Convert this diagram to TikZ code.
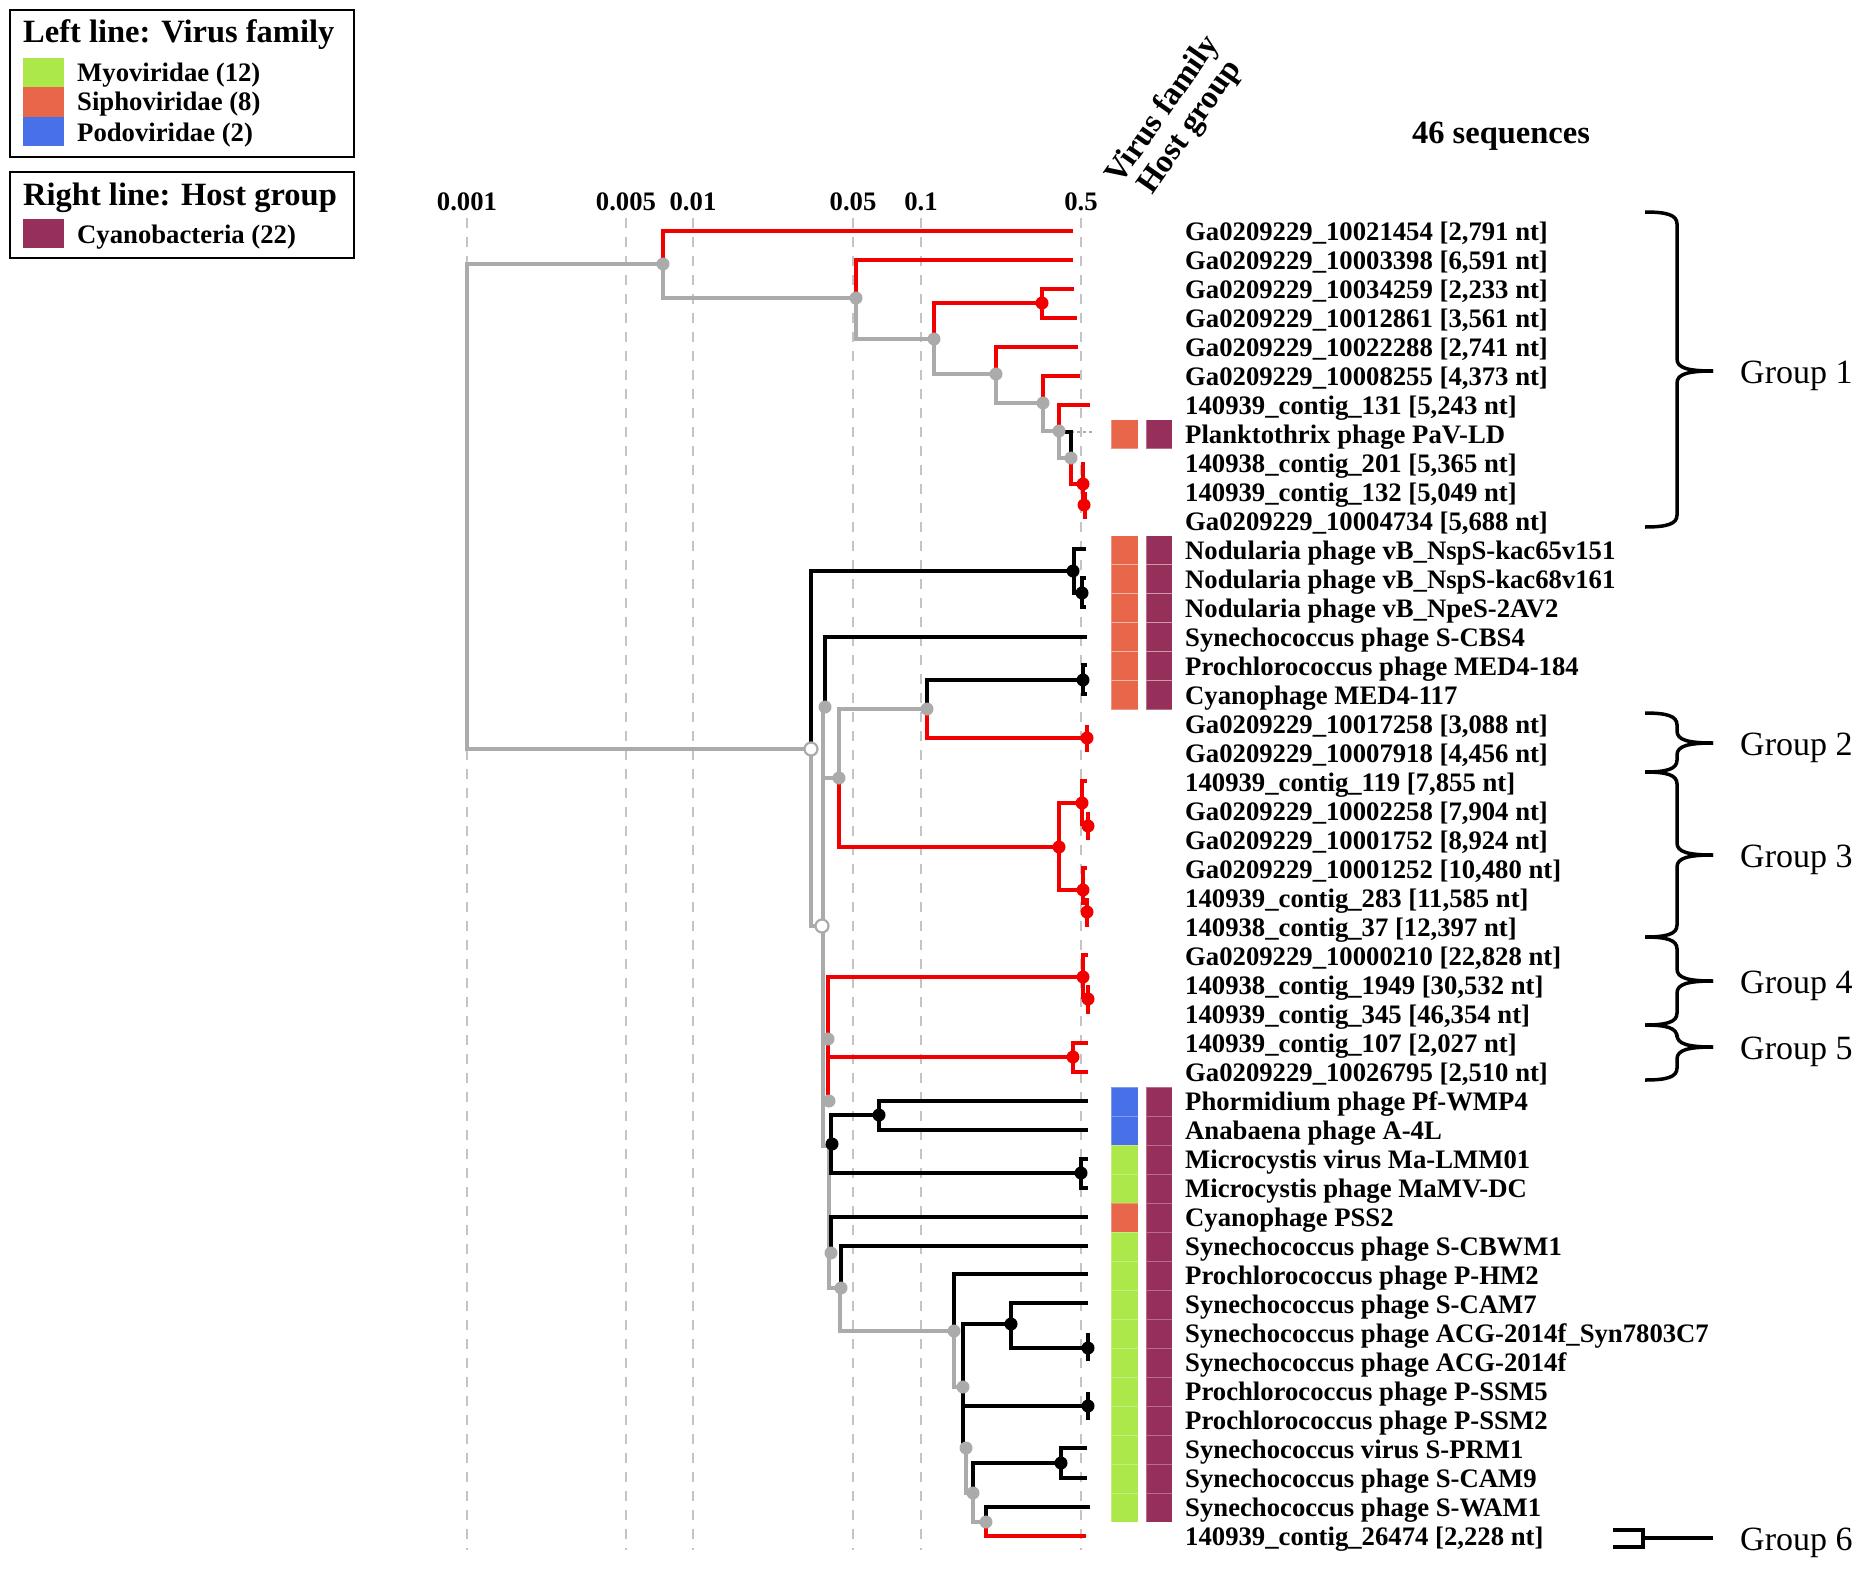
\documentclass[tikz,border=0pt]{standalone}
\usepackage{fontspec}
\setmainfont{Liberation Serif}
\definecolor{treegrey}{HTML}{ABABAB}
\definecolor{treered}{HTML}{F20000}
\definecolor{gridgrey}{HTML}{C4C4C4}
\definecolor{myo}{HTML}{ADE84A}
\definecolor{sipho}{HTML}{E8664A}
\definecolor{podo}{HTML}{4870E8}
\definecolor{cyano}{HTML}{96305A}
\newcommand\lblfont{\bfseries\fontsize{26.7}{29}\selectfont}
\newcommand\hdrfont{\bfseries\fontsize{32.5}{34}\selectfont}
\newcommand\grpfont{\fontsize{34}{36}\selectfont}
\tikzset{
  gl/.style={draw=treegrey, line width=3.2},
  rl/.style={draw=treered, line width=3.2},
  bl/.style={draw=black, line width=3.2},
  gdot/.style={circle, fill=treegrey, inner sep=0, minimum size=13},
  rdot/.style={circle, fill=treered, inner sep=0, minimum size=13},
  bdot/.style={circle, fill=black, inner sep=0, minimum size=13},
  odot/.style={circle, fill=white, draw=treegrey, line width=2.2, inner sep=0, minimum size=13},
  gridln/.style={draw=gridgrey, line width=1.6, dash pattern=on 10pt off 9pt},
  lab/.style={anchor=base west, inner sep=0, font=\lblfont, text height=18, text depth=5},
  tick/.style={anchor=base, inner sep=0, font=\lblfont},
  ttl/.style={anchor=base west, inner sep=0, font=\hdrfont},
  rot/.style={anchor=base west, inner sep=0, font=\hdrfont, rotate=55, text height=20, text depth=2},
  grp/.style={anchor=base west, inner sep=0, font=\grpfont},
  brc/.style={draw=black, line width=3.5},
  cellbox/.style={draw=white, draw opacity=0.3, line width=0.8}
}
\newcommand\grpbrace[3]{%
  \draw[brc] (1645,#1) .. controls (1667,#1) and (1677,{#1+3}) .. (1677,{#1+12}) -- (1677,{#2-12}) .. controls (1677,{#2-3}) and (1688,#2) .. (1713,#2);
  \draw[brc] (1713,#2) .. controls (1688,#2) and (1677,{#2+3}) .. (1677,{#2+12}) -- (1677,{#3-12}) .. controls (1677,{#3-3}) and (1667,#3) .. (1645,#3);
}
\begin{document}
\begin{tikzpicture}[x=1pt,y=-1pt]
\useasboundingbox (0,0) rectangle (1867,1568);

% ---------- legend ----------
\draw[line width=2] (10,10) rectangle (354,157);
\node[ttl] (lt1) at (23,43) {Left line: Virus family};
\fill[myo] (23,58) rectangle (64,87);
\fill[sipho] (23,87) rectangle (64,117);
\fill[podo] (23,117) rectangle (64,146);
\node[lab] (le1) at (77,82) {Myoviridae (12)};
\node[lab] (le2) at (77,111) {Siphoviridae (8)};
\node[lab] (le3) at (77,141) {Podoviridae (2)};
\draw[line width=2] (10,172) rectangle (354,258);
\node[ttl] (lt2) at (23,205) {Right line: Host group};
\fill[cyano] (23,219) rectangle (64,248);
\node[lab] (le4) at (77,243) {Cyanobacteria (22)};

% ---------- headers ----------
\node[rot] (hv) at (1120,186) {Virus family};
\node[rot] (hh) at (1152,196) {Host group};
\node[anchor=base, inner sep=0, font=\hdrfont] (hs) at (1501,143) {46 sequences};

% ---------- grid ----------
\foreach \gx/\gl [count=\k] in {467/0.001, 626/0.005, 693/0.01, 853/0.05, 921/0.1, 1081/0.5} {
  \draw[gridln] (\gx,218) -- (\gx,1550);
  \node[tick] (tk\k) at (\gx,210) {\gl};
}

% ---------- colour columns ----------
\foreach \r/\c in {7/sipho,11/sipho,12/sipho,13/sipho,14/sipho,15/sipho,16/sipho,
  30/podo,31/podo,32/myo,33/myo,34/sipho,35/myo,36/myo,37/myo,38/myo,39/myo,40/myo,41/myo,42/myo,43/myo,44/myo} {
  \path[cellbox, fill=\c] (1111,{216.5+29.02*\r}) rectangle (1138,{245.5+29.02*\r});
  \path[cellbox, fill=cyano] (1146,{216.5+29.02*\r}) rectangle (1172,{245.5+29.02*\r});
}

% ---------- tree: grey lines ----------
\draw[gl] (663,264) -- (467,264) -- (467,749) -- (811,749);
\draw[gl] (663,264) -- (663,298) -- (856,298);
\draw[gl] (856,298) -- (856,339) -- (934,339);
\draw[gl] (934,339) -- (934,374) -- (996,374);
\draw[gl] (996,374) -- (996,403) -- (1043,403);
\draw[gl] (1043,403) -- (1043,431) -- (1059,431);
\draw[gl] (1059,431) -- (1059,458) -- (1071,458);
\draw[draw=treegrey, line width=1.6, dash pattern=on 3pt off 3pt] (1071,432) -- (1093,432);
\draw[gl] (811,749) -- (811,926) -- (822,926);
\draw[gl] (823,707) -- (823,1146) -- (832,1146);
\draw[gl] (823,778) -- (839,778);
\draw[gl] (839,778) -- (839,709) -- (927,709);
\draw[gl] (829,1146) -- (829,1288) -- (841,1288);
\draw[gl] (840,1288) -- (840,1331) -- (954,1331);
\draw[gl] (954,1331) -- (954,1387) -- (963,1387);
\draw[gl] (963,1387) -- (963,1448) -- (966,1448);
\draw[gl] (966,1448) -- (966,1493) -- (973,1493);
\draw[gl] (973,1493) -- (973,1522) -- (986,1522);

% ---------- tree: red lines ----------
\draw[rl] (663,264) -- (663,231) -- (1073,231);
\draw[rl] (856,298) -- (856,260) -- (1073,260);
\draw[rl] (934,339) -- (934,303) -- (1042,303);
\draw[rl] (1074,289) -- (1042,289) -- (1042,318) -- (1077,318);
\draw[rl] (996,374) -- (996,347) -- (1078,347);
\draw[rl] (1043,403) -- (1043,376) -- (1080,376);
\draw[rl] (1059,431) -- (1059,405) -- (1090,405);
\draw[rl] (1071,458) -- (1071,484) -- (1083,484);
\draw[rl] (1083,462) -- (1083,505);
\draw[rl] (1085,492) -- (1085,519);
\draw[rl] (927,709) -- (927,738) -- (1087,738);
\draw[rl] (1087,725) -- (1087,752);
\draw[rl] (839,778) -- (839,847) -- (1059,847);
\draw[rl] (1082,803) -- (1059,803) -- (1059,890) -- (1083,890);
\draw[rl] (1087,781) -- (1082,781) -- (1082,826);
\draw[rl] (1088,812) -- (1088,840);
\draw[rl] (1087,868) -- (1083,868) -- (1083,905);
\draw[rl] (1087,898) -- (1087,927);
\draw[rl] (828,1100) -- (828,977) -- (1083,977);
\draw[rl] (828,1057) -- (1073,1057);
\draw[rl] (1088,955) -- (1083,955) -- (1083,999);
\draw[rl] (1088,985) -- (1088,1014);
\draw[rl] (1088,1043) -- (1073,1043) -- (1073,1072) -- (1088,1072);
\draw[rl] (986,1522) -- (986,1536) -- (1086,1536);

% ---------- tree: black lines ----------
\draw[bl] (1059,432) -- (1071,432) -- (1071,452);
\draw[bl] (811,749) -- (811,571) -- (1073,571);
\draw[bl] (1086,549) -- (1074,549) -- (1074,593) -- (1082,593);
\draw[bl] (1086,578) -- (1082,578) -- (1082,607) -- (1086,607);
\draw[bl] (825,707) -- (825,637) -- (1087,637);
\draw[bl] (927,709) -- (927,680) -- (1083,680);
\draw[bl] (1087,665) -- (1083,665) -- (1083,694) -- (1087,694);
\draw[bl] (879,1115) -- (831,1115) -- (831,1173) -- (1081,1173);
\draw[bl] (1088,1101) -- (879,1101) -- (879,1130) -- (1088,1130);
\draw[bl] (1088,1159) -- (1081,1159) -- (1081,1188) -- (1088,1188);
\draw[bl] (831,1253) -- (831,1217) -- (1088,1217);
\draw[bl] (841,1288) -- (841,1246) -- (1088,1246);
\draw[bl] (954,1331) -- (954,1274) -- (1088,1274);
\draw[bl] (1011,1324) -- (963,1324) -- (963,1448);
\draw[bl] (1088,1303) -- (1011,1303) -- (1011,1348) -- (1088,1348);
\draw[bl] (1088,1333) -- (1088,1361);
\draw[bl] (963,1406) -- (1088,1406);
\draw[bl] (1088,1392) -- (1088,1420);
\draw[bl] (1061,1463) -- (973,1463) -- (973,1493);
\draw[bl] (1087,1448) -- (1061,1448) -- (1061,1478) -- (1087,1478);
\draw[bl] (986,1522) -- (986,1507) -- (1090,1507);

% ---------- tree: node dots ----------
\foreach \n/\px/\py in {A/663/264,B/856/298,C/934/339,E/996/374,F/1043/403,G/1059/431,H/1071/458,
  L/825/707,N/839/778,M/927/709,S/828/1039,V/829/1101,Z/831/1253,AA/841/1288,AB/954/1331,
  AD/963/1387,AE/966/1448,AG/973/1493,AH/986/1522}
  \node[gdot] (n\n) at (\px,\py) {};
\foreach \n/\px/\py in {D/1042/303,I/1083/484,I2/1084/505,RM/1087/738,P/1059/847,R1/1082/803,
  R1b/1088/826,R2/1083/890,R2b/1087/912,T/1083/977,T2/1088/999,U/1073/1057}
  \node[rdot] (n\n) at (\px,\py) {};
\foreach \n/\px/\py in {J/1073/571,K/1082/593,Q/1083/680,X/879/1115,W/832/1144,Y/1081/1173,
  AC/1011/1324,AC2/1088/1348,AD2/1088/1406,AF/1061/1463}
  \node[bdot] (n\n) at (\px,\py) {};
\node[odot] (nO1) at (811,749) {};
\node[odot] (nO2) at (822,926) {};

% ---------- labels ----------
\foreach \i/\t in {
 0/{Ga0209229\_10021454 [2,791 nt]},
 1/{Ga0209229\_10003398 [6,591 nt]},
 2/{Ga0209229\_10034259 [2,233 nt]},
 3/{Ga0209229\_10012861 [3,561 nt]},
 4/{Ga0209229\_10022288 [2,741 nt]},
 5/{Ga0209229\_10008255 [4,373 nt]},
 6/{140939\_contig\_131 [5,243 nt]},
 7/{Planktothrix phage PaV-LD},
 8/{140938\_contig\_201 [5,365 nt]},
 9/{140939\_contig\_132 [5,049 nt]},
 10/{Ga0209229\_10004734 [5,688 nt]},
 11/{Nodularia phage vB\_NspS-kac65v151},
 12/{Nodularia phage vB\_NspS-kac68v161},
 13/{Nodularia phage vB\_NpeS-2AV2},
 14/{Synechococcus phage S-CBS4},
 15/{Prochlorococcus phage MED4-184},
 16/{Cyanophage MED4-117},
 17/{Ga0209229\_10017258 [3,088 nt]},
 18/{Ga0209229\_10007918 [4,456 nt]},
 19/{140939\_contig\_119 [7,855 nt]},
 20/{Ga0209229\_10002258 [7,904 nt]},
 21/{Ga0209229\_10001752 [8,924 nt]},
 22/{Ga0209229\_10001252 [10,480 nt]},
 23/{140939\_contig\_283 [11,585 nt]},
 24/{140938\_contig\_37 [12,397 nt]},
 25/{Ga0209229\_10000210 [22,828 nt]},
 26/{140938\_contig\_1949 [30,532 nt]},
 27/{140939\_contig\_345 [46,354 nt]},
 28/{140939\_contig\_107 [2,027 nt]},
 29/{Ga0209229\_10026795 [2,510 nt]},
 30/{Phormidium phage Pf-WMP4},
 31/{Anabaena phage A-4L},
 32/{Microcystis virus Ma-LMM01},
 33/{Microcystis phage MaMV-DC},
 34/{Cyanophage PSS2},
 35/{Synechococcus phage S-CBWM1},
 36/{Prochlorococcus phage P-HM2},
 37/{Synechococcus phage S-CAM7},
 38/{Synechococcus phage ACG-2014f\_Syn7803C7},
 39/{Synechococcus phage ACG-2014f},
 40/{Prochlorococcus phage P-SSM5},
 41/{Prochlorococcus phage P-SSM2},
 42/{Synechococcus virus S-PRM1},
 43/{Synechococcus phage S-CAM9},
 44/{Synechococcus phage S-WAM1},
 45/{140939\_contig\_26474 [2,228 nt]}}
  \node[lab] (lab\i) at (1185,{240+29.02*\i}) {\t};

% ---------- group braces ----------
\grpbrace{212}{371}{527}
\grpbrace{713}{743}{772}
\grpbrace{772}{855}{937}
\grpbrace{937}{981}{1025}
\grpbrace{1025}{1047}{1080}
\draw[brc] (1613,1530) -- (1643,1530) -- (1643,1547) -- (1613,1547);
\draw[brc] (1643,1538) -- (1713,1538);
\node[grp] (g1) at (1740,383) {Group 1};
\node[grp] (g2) at (1740,755) {Group 2};
\node[grp] (g3) at (1740,867) {Group 3};
\node[grp] (g4) at (1740,993) {Group 4};
\node[grp] (g5) at (1740,1059) {Group 5};
\node[grp] (g6) at (1740,1550) {Group 6};
\end{tikzpicture}
\end{document}
